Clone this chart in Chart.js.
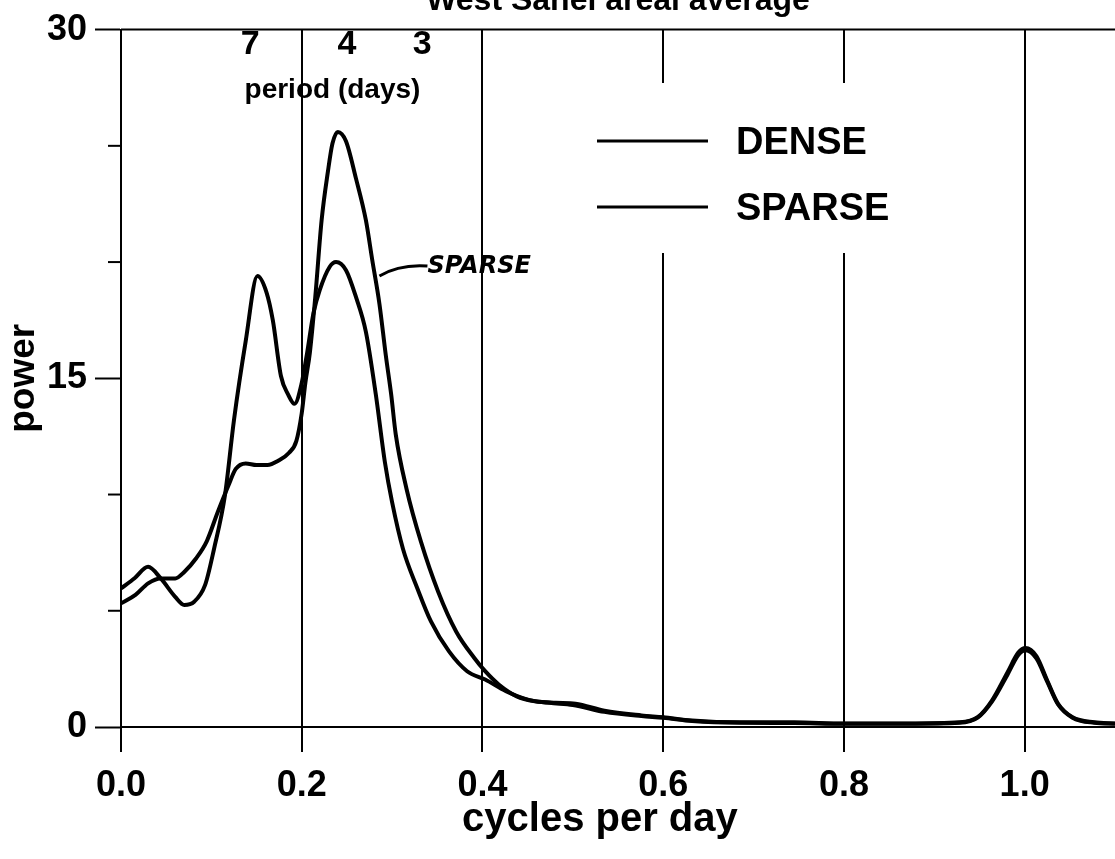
<!DOCTYPE html>
<html lang="en">
<head>
<meta charset="UTF-8">
<script src="https://cdn.jsdelivr.net/npm/chart.js"></script>
<style>
  html, body { margin: 0; padding: 0; background: #fff; }
</style>
</head>
<body>
<canvas id="spec" width="1115" height="859"></canvas>
<script>
// frequencies (cycles per day) and power
var freqDense = [0, 0.015, 0.03, 0.044, 0.06, 0.07, 0.081, 0.093, 0.103, 0.115, 0.125, 0.138, 0.151, 0.161, 0.168, 0.177, 0.185, 0.192, 0.2, 0.206, 0.213, 0.22, 0.231, 0.238, 0.249, 0.26, 0.271, 0.282, 0.292, 0.3, 0.312, 0.328, 0.343, 0.363, 0.383, 0.403, 0.426, 0.45, 0.474, 0.5, 0.535, 0.576, 0.6, 0.632, 0.685, 0.745, 0.8, 0.87, 0.928, 0.948, 0.964, 0.981, 0.993, 1.001, 1.013, 1.025, 1.037, 1.053, 1.077, 1.1];
var powerDense = [5.96, 6.4, 6.89, 6.39, 5.6, 5.25, 5.39, 6.1, 7.67, 9.96, 13.2, 16.6, 19.4, 18.7, 17.5, 15.1, 14.3, 13.9, 14.8, 16.1, 17.8, 18.8, 19.8, 20.0, 19.65, 18.5, 17.0, 14.3, 11.4, 9.67, 7.67, 5.96, 4.54, 3.25, 2.4, 2.04, 1.54, 1.18, 1.04, 0.95, 0.65, 0.47, 0.4, 0.26, 0.18, 0.17, 0.14, 0.14, 0.18, 0.4, 1.1, 2.25, 3.1, 3.3, 2.95, 1.95, 0.97, 0.4, 0.18, 0.14];

var freqSparse = [0, 0.016, 0.03, 0.044, 0.06, 0.07, 0.083, 0.095, 0.107, 0.119, 0.127, 0.138, 0.15, 0.162, 0.174, 0.186, 0.194, 0.2, 0.204, 0.209, 0.215, 0.222, 0.229, 0.234, 0.24, 0.249, 0.26, 0.271, 0.278, 0.286, 0.293, 0.299, 0.304, 0.316, 0.332, 0.351, 0.371, 0.391, 0.403, 0.418, 0.438, 0.458, 0.481, 0.503, 0.535, 0.576, 0.6, 0.632, 0.685, 0.745, 0.8, 0.87, 0.928, 0.948, 0.964, 0.981, 0.993, 1.001, 1.013, 1.025, 1.037, 1.053, 1.077, 1.1];
var powerSparse = [5.32, 5.68, 6.18, 6.39, 6.39, 6.67, 7.25, 8.0, 9.24, 10.4, 11.1, 11.34, 11.27, 11.27, 11.45, 11.8, 12.3, 13.5, 14.8, 16.1, 18.5, 21.8, 23.9, 25.1, 25.6, 25.2, 23.6, 21.8, 20.1, 18.2, 16.0, 14.3, 12.6, 10.24, 7.96, 5.82, 4.1, 2.97, 2.4, 1.83, 1.32, 1.11, 1.04, 1.0, 0.7, 0.5, 0.42, 0.28, 0.2, 0.2, 0.15, 0.15, 0.2, 0.42, 1.15, 2.35, 3.2, 3.4, 3.05, 2.0, 1.0, 0.42, 0.2, 0.15];

var freqTicks = [0, 0.2, 0.4, 0.6, 0.8, 1.0];
var periodDays = [7, 4, 3];
var labeledPower = [0, 15, 30];
var titleText = 'West Sahel areal average';
var xTitle = 'cycles per day';

var FONT = "'Liberation Sans', Arial, sans-serif";

// everything that is not a dataset: title, period axis, top border, minor ticks, legend, note
var decor = {
  id: 'decor',
  beforeDatasetsDraw: function (chart) {
    var c = chart.ctx, a = chart.chartArea;
    c.save();
    // legend box hides the grid lines behind it
    c.fillStyle = '#fff';
    c.fillRect(a.left + 440, 83, 400, 170);
    c.restore();
  },
  afterDraw: function (chart) {
    var c = chart.ctx, a = chart.chartArea;
    var xs = chart.scales.x, ys = chart.scales.y;
    c.save();
    c.strokeStyle = '#000';
    c.fillStyle = '#000';

    // top border
    c.lineWidth = 2;
    c.beginPath();
    c.moveTo(a.left, a.top);
    c.lineTo(a.right, a.top);
    c.stroke();

    // minor y ticks
    for (var v = 0; v <= 30; v += 5) {
      if (labeledPower.indexOf(v) >= 0) continue;
      var py = ys.getPixelForValue(v);
      c.beginPath();
      c.moveTo(a.left - 13, py);
      c.lineTo(a.left, py);
      c.stroke();
    }

    // title (cut at the top in the original)
    c.font = 'bold 32px ' + FONT;
    c.textAlign = 'center';
    c.textBaseline = 'alphabetic';
    c.fillText(titleText, (a.left + a.right) / 2, 10);

    // x axis title, a little left of centre as in the original
    c.font = 'bold 40px ' + FONT;
    c.textBaseline = 'middle';
    c.fillText(xTitle, xs.getPixelForValue(0.53), 820);

    // period axis
    c.font = 'bold 34px ' + FONT;
    periodDays.forEach(function (d) {
      c.fillText(String(d), xs.getPixelForValue(1 / d), 45);
    });
    c.font = 'bold 28px ' + FONT;
    c.fillText('period (days)', xs.getPixelForValue(0.234), 90);

    // legend
    c.font = 'bold 38px ' + FONT;
    c.textAlign = 'left';
    c.lineWidth = 3;
    var rows = [141, 207];
    chart.data.datasets.forEach(function (ds, i) {
      c.beginPath();
      c.moveTo(597, rows[i]);
      c.lineTo(708, rows[i]);
      c.stroke();
      c.fillText(ds.label, 736, rows[i] + 3);
    });

    // handwritten note pointing at the sparse curve
    var nx = xs.getPixelForValue(0.286), ny = ys.getPixelForValue(19.4);
    c.lineWidth = 3;
    c.beginPath();
    c.moveTo(nx, ny);
    c.quadraticCurveTo(nx + 20, ny - 12, nx + 48, ny - 10);
    c.stroke();
    c.font = 'italic bold 24px "DejaVu Sans"';
    c.fillText('SPARSE', nx + 48, ny - 9);
    c.restore();
  }
};

new Chart(document.getElementById('spec'), {
  type: 'line',
  data: {
    datasets: [
      {
        label: 'DENSE',
        data: freqDense.map(function (f, i) { return { x: f, y: powerDense[i] }; }),
        borderColor: '#000',
        borderWidth: 4,
        cubicInterpolationMode: 'monotone',
        pointRadius: 0,
        fill: false
      },
      {
        label: 'SPARSE',
        data: freqSparse.map(function (f, i) { return { x: f, y: powerSparse[i] }; }),
        borderColor: '#000',
        borderWidth: 4,
        cubicInterpolationMode: 'monotone',
        pointRadius: 0,
        fill: false
      }
    ]
  },
  options: {
    responsive: false,
    animation: false,
    devicePixelRatio: 1,
    layout: { padding: { top: 24, right: 0, bottom: 0, left: 0 } },
    plugins: { legend: { display: false }, tooltip: { enabled: false } },
    scales: {
      x: {
        type: 'linear',
        min: 0,
        max: 1.1,
        afterFit: function (s) { s.height = 132; },
        afterBuildTicks: function (s) {
          s.ticks = freqTicks.map(function (v) { return { value: v }; });
        },
        ticks: {
          autoSkip: false,
          maxRotation: 0,
          padding: 12,
          color: '#000',
          font: { family: FONT, size: 36, weight: 'bold' },
          callback: function (v) { return Number(v).toFixed(1); }
        },
        grid: { color: '#000', lineWidth: 2, tickLength: 25 },
        border: { color: '#000', width: 2 },
        title: { display: false }
      },
      y: {
        min: 0,
        max: 30,
        afterFit: function (s) { s.width = 121; },
        ticks: {
          stepSize: 5,
          padding: 8,
          color: '#000',
          font: { family: FONT, size: 36, weight: 'bold' },
          callback: function (v) { return labeledPower.indexOf(v) >= 0 ? String(v) : ''; }
        },
        grid: {
          drawOnChartArea: false,
          tickLength: 26,
          tickWidth: 2,
          tickColor: function (ctx) {
            return ctx.tick && labeledPower.indexOf(ctx.tick.value) >= 0 ? '#000' : 'rgba(0,0,0,0)';
          }
        },
        border: { color: '#000', width: 2 },
        title: {
          display: true,
          text: 'power',
          color: '#000',
          font: { family: FONT, size: 37, weight: 'bold' },
          padding: { top: 2, bottom: 0 }
        }
      }
    }
  },
  plugins: [decor]
});
</script>
</body>
</html>
